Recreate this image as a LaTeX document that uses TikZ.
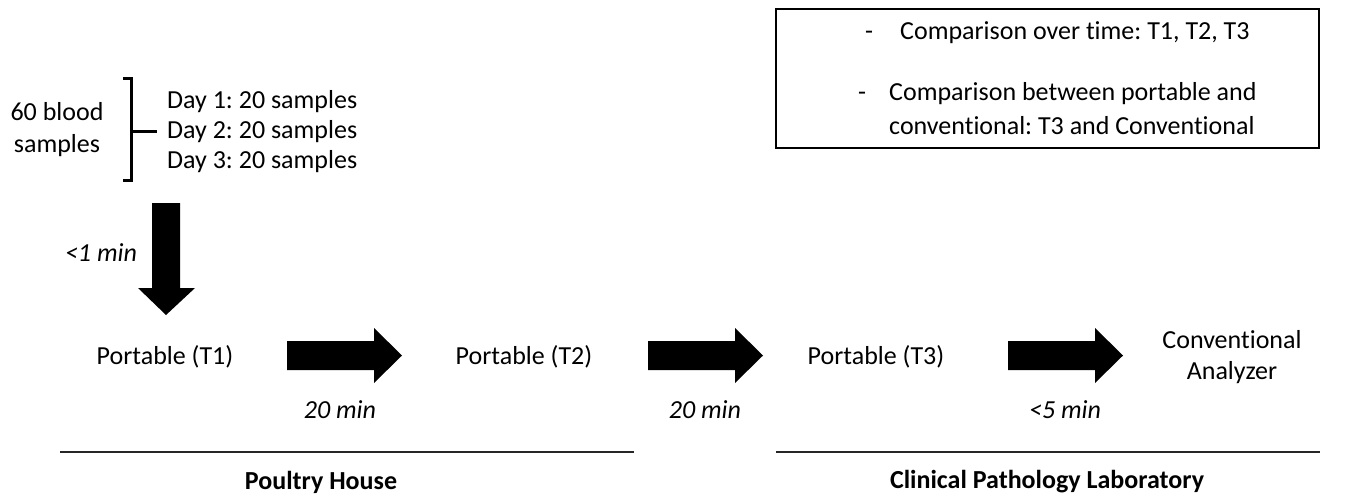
\documentclass[tikz,border=0pt]{standalone}
\usepackage{fontspec}
\setmainfont{Carlito}[Ligatures=NoCommon]
\frenchspacing
\begin{document}
\begin{tikzpicture}[x=1pt,y=-1pt,
  every node/.style={inner sep=0pt, font=\fontsize{26}{31}\selectfont\frenchspacing},
  lbl/.style={align=center},
  timelbl/.style={font=\fontsize{26}{31}\selectfont\itshape},
  placelbl/.style={font=\fontsize{26}{31}\selectfont\bfseries},
  blockarrow/.style={fill=black},
  rule/.style={line width=2.5pt, draw=black!85},
  bracket/.style={line width=3pt}]
\useasboundingbox (0,0) rectangle (1348,496);

% brace group
\node[lbl, font=\fontsize{26}{32}\selectfont] (blood) at (57,130) {60 blood\\samples};
\draw[bracket] (123,78) -- (131,78) -- (131,180) -- (123,180);
\coordinate (bmid) at (131,131);
\node[align=left, anchor=west, font=\fontsize{26}{30}\selectfont\frenchspacing] (days) at (167,132) {Day 1: 20 samples\\Day 2: 20 samples\\Day 3: 20 samples};
\draw[bracket] (bmid) -- (157,131);

% down arrow
\fill[blockarrow] (152,203) -- (180,203) -- (180,288) -- (195,288) -- (166,315) -- (138,288) -- (152,288) -- cycle;
\node[timelbl] (t0) at (101,253) {<1 min};

% stations
\node (p1) at (165,357) {Portable (T1)};
\node (p2) at (524,357) {Portable (T2)};
\node (p3) at (876,357) {Portable (T3)};
\node[lbl] (conv) at (1232,357) {Conventional\\Analyzer};

% right arrows
\foreach \s in {0,361,721}
  \fill[blockarrow, shift={(\s,0)}] (287,341) -- (374,341) -- (374,328) -- (402,355.5) -- (374,383) -- (374,370) -- (287,370) -- cycle;

\node[timelbl] (t1) at (340,410) {20 min};
\node[timelbl] (t2) at (705,410) {20 min};
\node[timelbl] (t3) at (1065,410) {<5 min};

% comparison box
\node[draw, line width=1.5pt, minimum width=543, minimum height=139, anchor=north west] (box) at (775,8) {};
\node[anchor=west] (c1) at (900,33) {Comparison over time: T1, T2, T3};
\node[anchor=west] (c2a) at (889,94) {Comparison between portable and};
\node[anchor=west] (c2b) at (889,126) {conventional: T3 and Conventional};
\coordinate (dx1) at (869,0);
\coordinate (dx2) at (862,0);
\node[anchor=base] (d1) at (c1.base -| dx1) {-};
\node[anchor=base] (d2) at (c2a.base -| dx2) {-};

% places
\coordinate (l1a) at (60,452);
\coordinate (l1b) at (634,452);
\coordinate (l2a) at (776,452);
\coordinate (l2b) at (1320,452);
\draw[rule] (l1a) -- (l1b);
\draw[rule] (l2a) -- (l2b);
\node[placelbl] (ph) at (321,482) {Poultry House};
\node[placelbl] (cpl) at (1047,482) {Clinical Pathology Laboratory};
\end{tikzpicture}
\end{document}
